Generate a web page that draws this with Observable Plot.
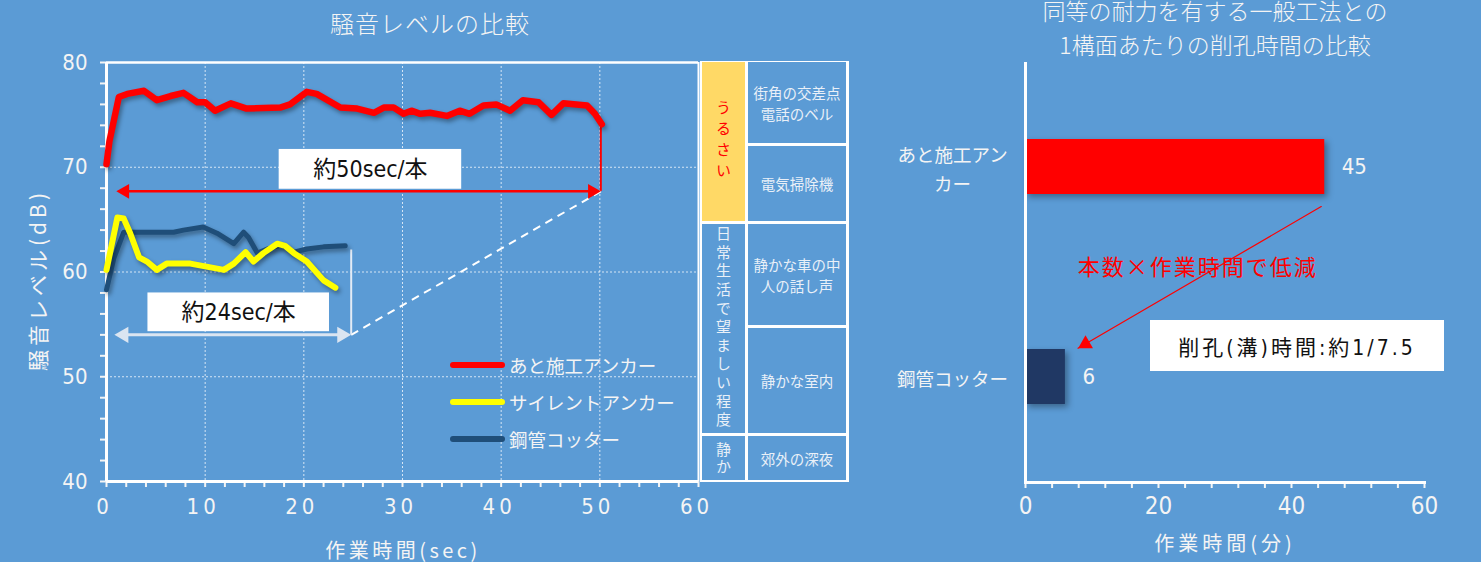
<!DOCTYPE html>
<html><head><meta charset="utf-8">
<script src="https://cdn.jsdelivr.net/npm/d3@7"></script>
<script src="https://cdn.jsdelivr.net/npm/@observablehq/plot@0.6"></script>
<style>
html,body{margin:0;padding:0;background:#5b9bd5;}
#wrap{position:relative;width:1481px;height:562px;background:#5b9bd5;overflow:hidden;font-family:"Noto Sans CJK JP",sans-serif;color:#f4f4f4;}
.abs{position:absolute;white-space:nowrap;}
.ctr{transform:translate(-50%,-50%);text-align:center;}
#left,#right{position:absolute;top:0;}
#left{left:0;} #right{left:860px;}
svg g[aria-label="line"]{filter:drop-shadow(2px 3px 2px rgba(0,0,0,0.35));}
#right svg g[aria-label="bar"]{filter:drop-shadow(3px 3px 3px rgba(0,0,0,0.35));}
#left svg g[aria-label="x-axis tick label"] text{letter-spacing:4px;}
#right svg g[fill="#ff0000"] text{letter-spacing:2px;}
.cell{position:absolute;background:#5b9bd5;display:flex;align-items:center;justify-content:center;text-align:center;font-size:14.5px;line-height:21px;color:#e9f0f8;}
.vt{writing-mode:vertical-rl;text-orientation:upright;font-size:15px;}
.leg{position:absolute;height:6px;width:55px;border-radius:3px;}
.legt{position:absolute;font-size:18.5px;transform:translateY(-50%);white-space:nowrap;}
</style></head>
<body>
<div id="wrap">
  <div class="abs ctr" style="left:430px;top:22px;font-size:24px;font-weight:300;letter-spacing:1px;">騒音レベルの比較</div>
  <div class="abs ctr" style="left:1215px;top:27px;font-size:23px;font-weight:300;line-height:34px;">同等の耐力を有する一般工法との<br>1構面あたりの削孔時間の比較</div>
  <div class="abs ctr" style="left:37px;top:280px;font-size:21px;letter-spacing:4px;transform:translate(-50%,-50%) rotate(-90deg);">騒音レベル(dB)</div>
  <div class="abs ctr" style="left:403px;top:549px;font-size:20px;letter-spacing:3.5px;">作業時間(sec)</div>
  <div class="abs ctr" style="left:1225px;top:542px;font-size:20px;letter-spacing:4px;">作業時間(分)</div>
  <div id="left"></div>
  <div id="right"></div>
  <div id="table" style="position:absolute;left:700px;top:61px;width:149px;height:421px;background:#ffffff;"></div>
  <div id="legend"></div>
  <div class="abs" style="left:1150px;top:320px;width:294px;height:51px;background:#fff;color:#111;font-size:21px;letter-spacing:3px;display:flex;align-items:center;justify-content:center;font-family:'Liberation Sans Narrow','DejaVu Sans Condensed','Noto Sans CJK JP',sans-serif;">削孔(溝)時間:約1/7.5</div>
</div>
<script>
// ---------- data: noise level comparison (left) ----------
const seriesNames = ["あと施工アンカー", "サイレントアンカー", "鋼管コッター"];
const anchorSec = [0, 0.3, 1.25, 2.1, 3.8, 5.1, 6.5, 7.8, 9.2, 10.0, 11.0, 12.6, 14.2, 17.6, 18.6, 20.3, 21.3, 23.7, 25.4, 27.1, 28.1, 29.1, 30.1, 30.9, 31.8, 32.8, 34.5, 35.8, 36.8, 38.2, 39.5, 40.9, 42.2, 43.8, 45.1, 46.3, 48.7, 49.5, 50.2];
const anchorDb  = [70.3, 72.5, 76.7, 77.0, 77.3, 76.4, 76.8, 77.1, 76.2, 76.2, 75.4, 76.1, 75.6, 75.7, 76.0, 77.2, 77.0, 75.7, 75.6, 75.2, 75.7, 75.7, 75.1, 75.4, 75.1, 75.2, 74.9, 75.4, 75.1, 75.9, 76.0, 75.4, 76.4, 76.2, 75.0, 76.1, 75.9, 75.1, 74.1];
const silentSec = [0, 1.1, 1.75, 2.4, 3.3, 4.1, 5.1, 6.1, 8.5, 11.9, 12.9, 14.1, 14.9, 15.9, 17.3, 18.1, 19.0, 20.3, 22.0, 23.2];
const silentDb  = [60.2, 65.2, 65.1, 63.7, 61.4, 61.0, 60.2, 60.8, 60.8, 60.2, 60.8, 61.9, 61.0, 61.8, 62.7, 62.5, 61.8, 61.0, 59.2, 58.5];
const cutterSec = [0, 0.74, 1.75, 6.8, 7.8, 9.8, 11.2, 12.9, 13.9, 14.4, 15.3, 16.3, 17.8, 19.0, 20.3, 22.0, 24.2];
const cutterDb  = [58.3, 61.3, 63.8, 63.8, 64.0, 64.3, 63.7, 62.7, 63.8, 63.3, 61.8, 62.2, 62.6, 61.9, 62.2, 62.4, 62.5];
const xTicks = [0, 10, 20, 30, 40, 50, 60];
const yTicks = [40, 50, 60, 70, 80];
// annotations (data units): per-piece work time spans
const spanLabels = ["約50sec/本", "約24sec/本"];
const spanStart  = [1.0, 0.8];
const spanEnd    = [50.1, 24.8];
const spanLevel  = [67.7, 54.0];
const spanTop    = [74.1, 62.1];
const boxX1 = [17.5, 4.2], boxX2 = [36.0, 22.6], boxY1 = [67.9, 54.3], boxY2 = [71.7, 58.0];

// ---------- data: drilling time (right) ----------
const methods = ["あと施工アンカー", "鋼管コッター"];
const methodLabels = ["あと施工アン\nカー", "鋼管コッター"];
const minutes = [45, 6];
const minuteTicks = [0, 20, 40, 60];
const reduceNote = "本数×作業時間で低減";
const reduceArrow = {from: 54.7, to: 0.45};

// ---------- noise table ----------
const levelGroups = [
  {label: "うるさい", rows: 2},
  {label: "日常生活で望ましい程度", rows: 2},
  {label: "静か", rows: 1}
];
const examples = ["街角の交差点<br>電話のベル", "電気掃除機", "静かな車の中<br>人の話し声", "静かな室内", "郊外の深夜"];

const FONT_NUM = '"Liberation Sans Narrow","DejaVu Sans Condensed","Noto Sans CJK JP",sans-serif';
const FONT_JP = '"Noto Sans CJK JP",sans-serif';

const toRows = (xs, ys) => xs.map((x, i) => ({x, y: ys[i]}));
const idx = [0, 1];
const grid = {stroke: "#fff", strokeOpacity: 0.75, strokeWidth: 1, strokeDasharray: "2,2"};

const left = Plot.plot({
  width: 720, height: 562,
  marginLeft: 106, marginRight: 22, marginTop: 62, marginBottom: 81,
  x: {domain: [0, 60], axis: null},
  y: {domain: [40, 80], axis: null},
  style: {background: "transparent", color: "#f4f4f4", fontFamily: FONT_NUM, fontSize: "22px", overflow: "visible"},
  marks: [
    Plot.ruleX(xTicks.filter(d => d > 0 && d < 60), grid),
    Plot.ruleY(yTicks.filter(d => d > 40 && d < 80), grid),
    Plot.ruleY([80], {stroke: "#fff", strokeWidth: 2.5}),
    Plot.ruleX([60], {stroke: "#fff", strokeWidth: 2}),
    Plot.axisX({ticks: d3.range(0, 61, 2), tickSize: 6, tickFormat: () => "", strokeWidth: 2, label: null}),
    Plot.axisX({ticks: xTicks, tickSize: 0, tickPadding: 17, dx: -2, label: null}),
    Plot.axisY({ticks: d3.range(40, 81, 2), tickSize: 6, tickFormat: () => "", strokeWidth: 2, label: null}),
    Plot.axisY({ticks: yTicks, tickSize: 0, tickPadding: 19, label: null}),
    Plot.ruleX([0], {stroke: "#fff", strokeWidth: 3}),
    Plot.ruleY([40], {stroke: "#fff", strokeWidth: 3}),
    // time span annotation: dashed connector, end markers
    Plot.link([0], {x1: spanEnd[1], y1: spanLevel[1], x2: spanEnd[0], y2: spanLevel[0], stroke: "#fff", strokeWidth: 2, strokeDasharray: "8,6"}),
    Plot.ruleX([spanEnd[0]], {y1: spanLevel[0], y2: spanTop[0], stroke: "#ff0000", strokeWidth: 2}),
    Plot.ruleX([spanEnd[1]], {y1: spanLevel[1], y2: spanTop[1], stroke: "#e3ebf5", strokeWidth: 2}),
    // series
    Plot.line(toRows(cutterSec, cutterDb), {x: "x", y: "y", stroke: "#1f4e79", strokeWidth: 5, strokeLinejoin: "round", strokeLinecap: "round"}),
    Plot.line(toRows(silentSec, silentDb), {x: "x", y: "y", stroke: "#ffff00", strokeWidth: 6, strokeLinejoin: "round", strokeLinecap: "round"}),
    Plot.line(toRows(anchorSec, anchorDb), {x: "x", y: "y", stroke: "#ff0000", strokeWidth: 6.5, strokeLinejoin: "round", strokeLinecap: "round"}),
    // label boxes
    Plot.rect(idx, {x1: i => boxX1[i], x2: i => boxX2[i], y1: i => boxY1[i], y2: i => boxY2[i], fill: "#ffffff"}),
    Plot.text(idx, {x: i => (boxX1[i] + boxX2[i]) / 2, y: i => (boxY1[i] + boxY2[i]) / 2, text: i => spanLabels[i], fill: "#111", fontSize: 23, fontFamily: FONT_NUM}),
    // arrows
    Plot.ruleY([spanLevel[0]], {x1: spanStart[0] + 0.6, x2: spanEnd[0] - 0.6, stroke: "#ff0000", strokeWidth: 2.5}),
    Plot.dot([spanStart[0]], {x: d => d, y: spanLevel[0], symbol: "triangle", r: 5.5, fill: "#ff0000", stroke: "none", rotate: -90, dx: 8.5}),
    Plot.dot([spanEnd[0]], {x: d => d, y: spanLevel[0], symbol: "triangle", r: 5.5, fill: "#ff0000", stroke: "none", rotate: 90, dx: -8.5}),
    Plot.ruleY([spanLevel[1]], {x1: spanStart[1] + 0.6, x2: spanEnd[1] - 0.6, stroke: "#dbe5f1", strokeWidth: 3}),
    Plot.dot([spanStart[1]], {x: d => d, y: spanLevel[1], symbol: "triangle", r: 6, fill: "#dbe5f1", stroke: "none", rotate: -90, dx: 9.3}),
    Plot.dot([spanEnd[1]], {x: d => d, y: spanLevel[1], symbol: "triangle", r: 6, fill: "#dbe5f1", stroke: "none", rotate: 90, dx: -9.3})
  ]
});
document.getElementById("left").appendChild(left);

const bars = methods.map((m, i) => ({method: m, label: methodLabels[i], value: minutes[i]}));
const right = Plot.plot({
  width: 621, height: 562,
  marginLeft: 165, marginRight: 57, marginTop: 62, marginBottom: 80,
  x: {domain: [0, 60], axis: null},
  y: {domain: methods, paddingInner: 0.738, paddingOuter: 0.369, axis: null},
  color: {domain: methods, range: ["#ff0000", "#203864"]},
  style: {background: "transparent", color: "#f4f4f4", fontFamily: FONT_NUM, fontSize: "24px", overflow: "visible"},
  marks: [
    Plot.barX(bars, {x: "value", y: "method", fill: "method"}),
    Plot.text(bars, {x: "value", y: "method", text: d => String(d.value), textAnchor: "start", dx: 17, fontSize: 22}),
    Plot.text(bars, {y: "method", text: "label", frameAnchor: "left", dx: -73, textAnchor: "middle", fontSize: 18.5, lineHeight: 1.55, fontFamily: FONT_JP}),
    Plot.axisX({ticks: d3.range(0, 61, 4), tickSize: 6, tickFormat: () => "", strokeWidth: 2, label: null}),
    Plot.axisX({ticks: minuteTicks, tickSize: 0, tickPadding: 14, label: null}),
    Plot.ruleX([0], {stroke: "#fff", strokeWidth: 3}),
    Plot.frame({anchor: "bottom", stroke: "#fff", strokeWidth: 3}),
    Plot.text([reduceNote], {x: 25.9, y: () => methods[0], dy: 101, text: d => d, fill: "#ff0000", fontSize: 22, fontFamily: FONT_JP}),
    Plot.arrow([0], {x1: reduceArrow.from, y1: () => methods[0], x2: reduceArrow.to, y2: () => methods[1], stroke: "#ff0000", strokeWidth: 1.2, headLength: 0, insetStart: 78.7, insetEnd: 57.3}),
    Plot.dot([0], {x: 9.03, y: () => methods[1], dy: -33.1, symbol: "triangle", r: 5.5, fill: "#ff0000", stroke: "none", rotate: 239.8})
  ]
});
document.getElementById("right").appendChild(right);

// table
const tbl = document.getElementById("table");
const col1 = [[1, 159], [163, 209], [375, 44]];
const col2 = [[1, 81], [85, 75], [163, 101], [267, 105], [375, 44]];
levelGroups.forEach((g, i) => {
  const d = document.createElement("div");
  d.className = "cell";
  d.style.cssText = `left:2px;width:43px;top:${col1[i][0]}px;height:${col1[i][1]}px;` +
    (i === 0 ? "background:#ffd966;" : "");
  const t = document.createElement("span");
  t.className = "vt";
  t.textContent = g.label;
  t.style.letterSpacing = ["6px", "3.6px", "1.5px"][i];
  if (i === 0) t.style.color = "#ff0000";
  d.appendChild(t);
  tbl.appendChild(d);
});
examples.forEach((e, i) => {
  const d = document.createElement("div");
  d.className = "cell";
  d.style.cssText = `left:48px;width:98px;top:${col2[i][0]}px;height:${col2[i][1]}px;`;
  d.innerHTML = e;
  tbl.appendChild(d);
});

// legend
const lg = document.getElementById("legend");
const legColors = ["#ff0000", "#ffff00", "#1f4e79"];
const legY = [365, 402, 439];
seriesNames.forEach((n, i) => {
  const b = document.createElement("div");
  b.className = "leg";
  b.style.cssText = `left:450px;top:${legY[i] - 3}px;background:${legColors[i]};`;
  lg.appendChild(b);
  const t = document.createElement("div");
  t.className = "legt";
  t.style.cssText = `left:509px;top:${legY[i]}px;`;
  t.textContent = n;
  lg.appendChild(t);
});
</script>
</body></html>
